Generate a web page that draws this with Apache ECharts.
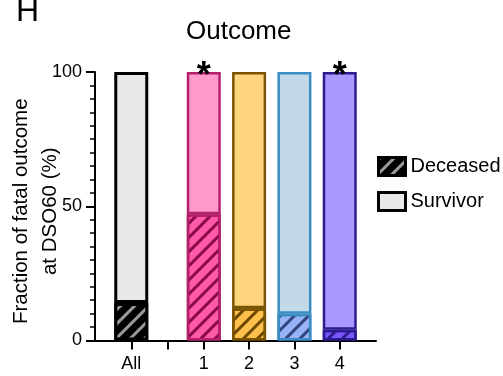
<!DOCTYPE html>
<html>
<head>
<meta charset="utf-8">
<script src="https://cdn.jsdelivr.net/npm/echarts@6/dist/echarts.min.js"></script>
<style>
  html, body { margin: 0; padding: 0; background: #fff; }
  #chart { width: 503px; height: 376px; }
</style>
</head>
<body>
<div id="chart"></div>
<script>
// Groups and their outcome fractions (%)
const groups = ['All', '1', '2', '3', '4'];
const deceased = [14, 47, 12, 10, 4];
const survivor = [86, 53, 88, 90, 96];
const significance = ['', '*', '', '', '*'];
const yTicks = [0, 50, 100];

// Per-group styling: survivor fill, deceased fill, outline, hatch lines
const survivorFill = ['#e8e8e8', '#ff9acb', '#ffd580', '#c2d9e9', '#a899ff'];
const deceasedFill = ['#000000', '#ff5aa8', '#ffbf4d', '#98b3f6', '#7a55fb'];
const outline = ['#000000', '#b3206c', '#7a5400', '#3a8cc3', '#2c1b8e'];
const hatch = ['#9a9a9a', '#8a0a48', '#6c4800', '#33457c', '#2c1b8e'];

// Layout on a fine slot grid so "All" sits apart from the numbered groups
const slotCount = 32;
const groupSlot = [4, 12, 17, 22, 27];
const dividerSlot = 8;
const slots = Array.from({ length: slotCount }, (_, i) => 's' + i);
const slotLabel = {};
groupSlot.forEach((s, k) => { slotLabel[s] = groups[k]; });

const font = "'Liberation Sans', Arial, Helvetica, sans-serif";

function stripes(color) {
  return {
    symbol: 'rect',
    symbolSize: 1,
    dashArrayX: [1, 0],
    dashArrayY: [3, 7],
    rotation: -Math.PI / 4,
    color: color
  };
}

const deceasedData = new Array(slotCount).fill(null);
const survivorData = new Array(slotCount).fill(null);
groupSlot.forEach((s, k) => {
  deceasedData[s] = {
    value: deceased[k],
    itemStyle: {
      color: deceasedFill[k],
      borderColor: outline[k],
      borderWidth: k === 0 ? 3 : 2.5,
      decal: stripes(hatch[k])
    }
  };
  survivorData[s] = {
    value: survivor[k],
    itemStyle: {
      color: survivorFill[k],
      borderColor: outline[k],
      borderWidth: k === 0 ? 3 : 2.5
    },
    label: {
      show: significance[k] !== '',
      formatter: significance[k]
    }
  };
});

const chart = echarts.init(document.getElementById('chart'), null, { renderer: 'canvas' });

chart.setOption({
  animation: false,
  backgroundColor: '#ffffff',
  title: [
    {
      text: 'H', left: 16, top: -4, padding: 0,
      textStyle: { fontFamily: font, fontSize: 32, fontWeight: 'normal', color: '#000' }
    },
    {
      text: 'Outcome', left: 186, top: 19, padding: 0,
      textStyle: { fontFamily: font, fontSize: 26, fontWeight: 'normal', color: '#000' }
    }
  ],
  legend: {
    orient: 'vertical',
    left: 377,
    top: 156,
    padding: 0,
    itemWidth: 27,
    itemHeight: 18,
    itemGap: 14,
    icon: 'rect',
    selectedMode: false,
    textStyle: { fontFamily: font, fontSize: 20, color: '#000' },
    data: [
      {
        name: 'Deceased',
        itemStyle: { color: '#000', borderColor: '#000', borderWidth: 3, decal: stripes('#9a9a9a') }
      },
      {
        name: 'Survivor',
        itemStyle: { color: '#e8e8e8', borderColor: '#000', borderWidth: 3 }
      }
    ]
  },
  grid: { left: 95, top: 72, right: 127, bottom: 35.5, containLabel: false, outerBoundsMode: 'none' },
  xAxis: {
    type: 'category',
    data: slots,
    boundaryGap: false,
    axisLine: { lineStyle: { color: '#000', width: 2 } },
    axisTick: {
      length: 9,
      lineStyle: { color: '#000', width: 2 },
      interval: (i) => slotLabel[i] !== undefined || i === dividerSlot
    },
    axisLabel: {
      interval: (i) => slotLabel[i] !== undefined,
      formatter: (v, i) => slotLabel[i] || '',
      margin: 15,
      fontFamily: font,
      fontSize: 18,
      color: '#000'
    },
    splitLine: { show: false }
  },
  yAxis: {
    type: 'value',
    min: 0,
    max: 100,
    interval: 50,
    name: 'Fraction of fatal outcome\nat DSO60 (%)',
    nameLocation: 'middle',
    nameRotate: 90,
    nameGap: 30,
    nameMoveOverlap: false,
    nameTextStyle: { fontFamily: font, fontSize: 20.5, color: '#000', lineHeight: 29, padding: [0, 10, 0, 0] },
    axisLine: { show: true, lineStyle: { color: '#000', width: 2 } },
    axisTick: { show: true, length: 9, lineStyle: { color: '#000', width: 2 } },
    minorTick: { show: true, splitNumber: 10, length: 5, lineStyle: { color: '#000', width: 1.5 } },
    axisLabel: {
      margin: 13,
      fontFamily: font,
      fontSize: 18,
      color: '#000',
      formatter: (v) => (yTicks.includes(v) ? String(v) : '')
    },
    splitLine: { show: false }
  },
  series: [
    {
      name: 'Deceased',
      type: 'bar',
      stack: 'outcome',
      barWidth: 34,
      itemStyle: { color: '#000', borderColor: '#000' },
      data: deceasedData,
      markLine: {
        silent: true,
        symbol: 'none',
        label: { show: false },
        lineStyle: { color: '#000', width: 2, type: [7, 3, 2, 3, 2, 3] },
        data: [[
          { coord: [slots[dividerSlot], -3.7] },
          { coord: [slots[dividerSlot], 104.4] }
        ]]
      }
    },
    {
      name: 'Survivor',
      type: 'bar',
      stack: 'outcome',
      barWidth: 34,
      itemStyle: { color: '#e8e8e8', borderColor: '#000' },
      label: {
        show: false,
        position: 'top',
        distance: -23,
        fontFamily: font,
        fontSize: 36,
        fontWeight: 'bold',
        color: '#000'
      },
      data: survivorData
    }
  ]
});
</script>
</body>
</html>
